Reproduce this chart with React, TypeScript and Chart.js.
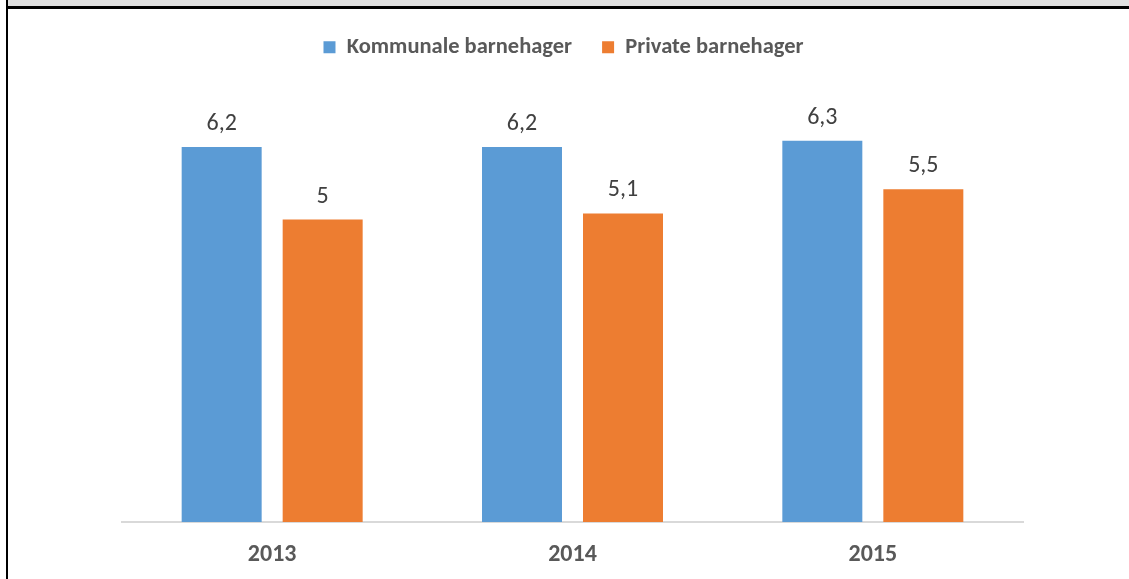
import React, { useEffect, useRef } from "react";
import { Chart, registerables } from "chart.js";

Chart.register(...registerables);

const categories = ["2013", "2014", "2015"];
const kommunale = [6.2, 6.2, 6.3];
const privat = [5, 5.1, 5.5];
const seriesNames = ["Kommunale barnehager", "Private barnehager"];

const FONT = "Carlito, Calibri, 'Open Sans', sans-serif";

const labelPlugin = {
  id: "valueLabels",
  afterDatasetsDraw(chart: any) {
    const ctx = chart.ctx;
    ctx.save();
    ctx.font = `24px ${FONT}`;
    ctx.fillStyle = "#404040";
    ctx.textAlign = "center";
    ctx.textBaseline = "alphabetic";
    chart.data.datasets.forEach((ds: any, i: number) => {
      const meta = chart.getDatasetMeta(i);
      meta.data.forEach((bar: any, j: number) => {
        const v = ds.data[j];
        ctx.fillText(String(v).replace(".", ","), bar.x, bar.y - 17);
      });
    });
    ctx.restore();
  },
};

const legendGap = {
  id: "legendGap",
  beforeInit(chart: any) {
    const legend = chart.legend;
    const origFit = legend.fit;
    legend.fit = function () {
      origFit.call(this);
      this.height += 30;
    };
    const origDraw = legend.draw;
    legend.draw = function (...args: any[]) {
      const ctx = this.ctx;
      ctx.save();
      ctx.translate(-9, 0);
      origDraw.apply(this, args);
      ctx.restore();
    };
  },
};

export default function App() {
  const ref = useRef<HTMLCanvasElement>(null);
  useEffect(() => {
    const chart = new Chart(ref.current!, {
      type: "bar",
      data: {
        labels: categories,
        datasets: [
          {
            label: seriesNames[0],
            data: kommunale,
            backgroundColor: "#5b9bd5",
            categoryPercentage: 0.6726,
            barPercentage: 0.792,
          },
          {
            label: seriesNames[1],
            data: privat,
            backgroundColor: "#ed7d31",
            categoryPercentage: 0.6726,
            barPercentage: 0.792,
          },
        ],
      },
      options: {
        animation: false,
        responsive: false,
        maintainAspectRatio: false,
        layout: { padding: { left: 122, right: 106, top: 6, bottom: 0 } },
        plugins: {
          legend: {
            position: "top",
            labels: {
              boxWidth: 12,
              boxHeight: 12,
              padding: 30,
              color: "#595959",
              font: { family: FONT, size: 22.5, weight: "bold" },
            },
          },
          tooltip: { enabled: false },
        },
        scales: {
          x: {
            grid: { display: false, drawTicks: false },
            border: { color: "#d9d9d9", width: 2 },
            ticks: {
              color: "#595959",
              padding: 19,
              font: { family: FONT, size: 24, weight: "bold" },
            },
            afterFit: (s: any) => {
              s.height = 57;
            },
          },
          y: {
            display: false,
            min: 0,
            max: 7,
          },
        },
      },
      plugins: [labelPlugin, legendGap],
    });
    return () => chart.destroy();
  }, []);
  return (
    <div style={{ position: "absolute", left: 0, top: 0, width: 1129, height: 579, background: "#fff" }}>
      <canvas ref={ref} width={1129} height={579} style={{ position: "absolute", left: 0, top: 0 }} />
      <div style={{ position: "absolute", left: 8, top: 0, width: 1121, height: 6, background: "#e0e0e0" }} />
      <div style={{ position: "absolute", left: 6, top: 6, width: 1123, height: 3, background: "#000" }} />
      <div style={{ position: "absolute", left: 6, top: 0, width: 2, height: 579, background: "#000" }} />
    </div>
  );
}
